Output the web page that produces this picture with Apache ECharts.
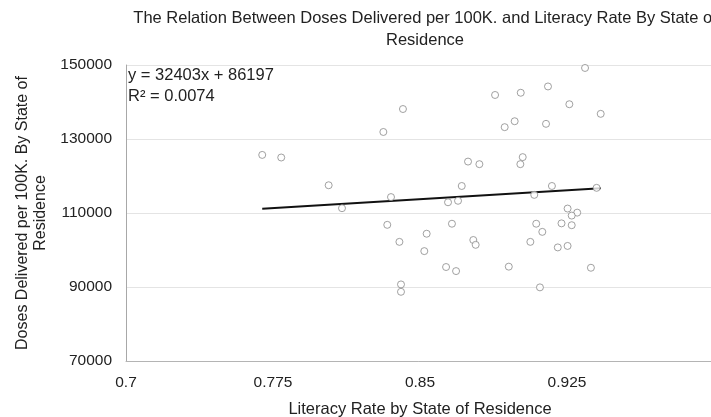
<!DOCTYPE html>
<html>
<head>
<meta charset="utf-8">
<script src="https://cdn.jsdelivr.net/npm/echarts@6/dist/echarts.min.js"></script>
<style>
html,body{margin:0;padding:0;background:#fff;}
#chart{width:711px;height:417px;}
</style>
</head>
<body>
<div id="chart"></div>
<script>
// Literacy rate (x) per state
const literacy = [
  0.7695, 0.7792, 0.8034, 0.8102, 0.8313, 0.8413, 0.8352, 0.8713, 0.8745, 0.8803,
  0.8643, 0.8694, 0.8883, 0.8932, 0.8983, 0.9014, 0.9153, 0.9143, 0.9262, 0.9342,
  0.9422, 0.9024, 0.9012, 0.9173, 0.9083, 0.9401, 0.9253, 0.9302, 0.8333, 0.8395,
  0.8534, 0.8522, 0.8403, 0.8403, 0.8663, 0.8772, 0.8784, 0.8633, 0.8684, 0.8953,
  0.9112, 0.9093, 0.9124, 0.9063, 0.9203, 0.9253, 0.9274, 0.9222, 0.9274, 0.9372
];
// Doses delivered per 100K (y) per state
const doses = [
  125700, 125000, 117500, 111300, 131900, 138100, 114300, 117300, 123900, 123200,
  112900, 113300, 141900, 133200, 134800, 142500, 144200, 134100, 139400, 149200,
  136800, 125100, 123200, 117300, 114900, 116800, 111200, 110100, 106800, 102200,
  104400, 99700, 90700, 88700, 107100, 102700, 101400, 95400, 94300, 95500,
  89900, 107100, 104900, 102200, 100700, 101100, 109300, 107200, 106700, 95200
];
// Linear trendline
const trendX = [0.7695, 0.9422];
const trendY = [111130, 116720];
const equationText = 'y = 32403x + 86197';
const r2Text = 'R² = 0.0074';
const yTicks = [70000, 90000, 110000, 130000, 150000];
const xTicks = ['0.7', '0.775', '0.85', '0.925'];

const FONT = 'Liberation Sans, Arial, Helvetica, sans-serif';
const chart = echarts.init(document.getElementById('chart'), null, {renderer: 'canvas'});

const points = literacy.map((x, i) => [x, doses[i]]);
const trend = trendX.map((x, i) => [x, trendY[i]]);

chart.setOption({
  backgroundColor: '#ffffff',
  animation: false,
  title: {
    text: 'The Relation Between Doses Delivered per 100K. and Literacy Rate By State of\nResidence',
    left: 420,
    top: 2,
    textAlign: 'center',
    textStyle: {fontFamily: FONT, fontSize: 16.5, fontWeight: 'normal', color: '#222', lineHeight: 22}
  },
  grid: {left: 126, top: 65, width: 588, bottom: 56, containLabel: false, outerBoundsMode: 'none'},
  xAxis: {
    type: 'value',
    min: 0.7, max: 1.0, interval: 0.075,
    name: 'Literacy Rate by State of Residence',
    nameLocation: 'middle',
    nameGap: 40,
    nameTextStyle: {fontFamily: FONT, fontSize: 16.5, color: '#222'},
    axisLine: {show: true, lineStyle: {color: '#b4b4b4', width: 1}},
    axisTick: {show: false},
    splitLine: {show: false},
    axisLabel: {
      fontFamily: FONT, fontSize: 15.5, color: '#222', margin: 14,
      formatter: v => {
        const s = String(+v.toFixed(4));
        return xTicks.indexOf(s) >= 0 ? s : '';
      }
    }
  },
  yAxis: {
    type: 'value',
    min: yTicks[0], max: yTicks[yTicks.length - 1], interval: 20000,
    name: 'Doses Delivered per 100K. By State of\nResidence',
    nameLocation: 'middle',
    nameRotate: 90,
    nameGap: 76,
    nameTextStyle: {fontFamily: FONT, fontSize: 16, color: '#222', lineHeight: 18},
    axisLine: {show: true, lineStyle: {color: '#a8a8a8', width: 1}},
    axisTick: {show: false},
    splitLine: {show: true, lineStyle: {color: '#e4e4e4', width: 1}},
    axisLabel: {fontFamily: FONT, fontSize: 15.5, color: '#222', margin: 14, formatter: v => String(v)}
  },
  graphic: [
    {type: 'text', left: 128, top: 67, style: {text: equationText, font: '16.5px ' + FONT, fill: '#222'}},
    {type: 'text', left: 128, top: 88, style: {text: r2Text, font: '16.5px ' + FONT, fill: '#222'}}
  ],
  series: [
    {
      type: 'line',
      data: trend,
      symbol: 'none',
      lineStyle: {color: '#111', width: 2},
      z: 3
    },
    {
      type: 'scatter',
      data: points,
      symbol: 'circle',
      symbolSize: 7,
      itemStyle: {color: '#ffffff', borderColor: '#8a8a8a', borderWidth: 1},
      z: 4
    }
  ]
});
</script>
</body>
</html>
